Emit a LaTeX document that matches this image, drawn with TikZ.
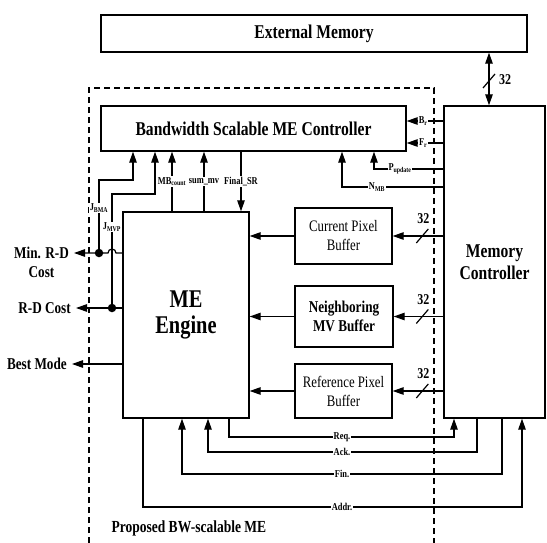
\documentclass[tikz,border=0pt]{standalone}
\usepackage{fontspec}
\setmainfont{Liberation Serif}[FakeStretch=0.8]
\usetikzlibrary{arrows.meta}

\begin{document}
\begin{tikzpicture}[x=1pt, y=-1pt,
  >={Triangle[length=11pt,width=7.5pt]},
  box/.style={draw, line width=1.4pt, inner sep=0pt, align=center},
  head/.style={font=\fontsize{19.5}{22}\selectfont\bfseries},
  buf/.style={box, font=\fontsize{16}{19}\selectfont},
  arr/.style={->, line width=1.2pt},
  wire/.style={line width=1.2pt},
  sig/.style={fill=white, inner sep=0.8pt, font=\fontsize{10.5}{11}\selectfont\bfseries},
  outlbl/.style={inner xsep=5pt, inner ysep=1pt, align=center, font=\fontsize{16.5}{19}\selectfont\bfseries},
  bus/.style={inner sep=0pt, font=\fontsize{15}{15}\selectfont\bfseries},
  dot/.style={circle, fill, inner sep=0pt, minimum size=8.5pt}]
\useasboundingbox (0,0) rectangle (547,543);

% external memory and the dashed ME block
\node[box, head, minimum width=426pt, minimum height=37pt] (ext) at (314,33.5) {External Memory};
\draw[line width=1.1pt, dash pattern=on 6pt off 4pt] (89,543) |- (434,88) -- (434,543);
\node[anchor=west, font=\fontsize{16.9}{18}\selectfont\bfseries] (title) at (108,528) {Proposed BW-scalable ME};

% main blocks
\node[box, head, minimum width=305pt, minimum height=45pt] (bsc) at (253.5,128.5) {Bandwidth Scalable ME Controller};
\node[box, head, minimum width=101pt, minimum height=312pt] (mc) at (494.5,262) {Memory\\Controller};
\node[box, minimum width=126pt, minimum height=206pt, font=\fontsize{25.5}{26}\selectfont\bfseries] (me) at (186,315) {ME\\Engine};
\node[buf, minimum width=97pt, minimum height=56pt] (cpb) at (343.5,236) {Current Pixel\\Buffer};
\node[buf, minimum width=98pt, minimum height=61pt, font=\fontsize{16.5}{19}\selectfont\bfseries] (nmb) at (344,316.5) {Neighboring\\MV Buffer};
\node[buf, minimum width=97pt, minimum height=54pt] (rpb) at (343.5,391) {Reference Pixel\\Buffer};

% 32-bit bus to external memory
\coordinate (busx) at (489,0);
\draw[<->, line width=1.2pt] (ext.south -| busx) -- (mc.north -| busx);
\draw[wire] (489,81) ++(-6,7) -- ++(12,-14);
\node[bus] (wext) at (505,80) {32};

% buffers: memory controller -> buffer -> engine
\foreach \b in {cpb,nmb,rpb}{
  \draw[arr] (\b.west) -- (me.east |- \b.west);
  \draw[arr] (mc.west |- \b.east) -- (\b.east);
  \draw[wire] (mc.west |- \b.east) ++(-27,7) -- ++(12,-14);
  \path (mc.west |- \b.east) ++(-20,-17) node[bus] (w\b) {32};
}

% outputs on the left
\node[dot] (d1) at (99,253) {};
\node[dot] (d2) at (112,308) {};
\node[outlbl, anchor=east] (mrd) at (74,262) {Min. R-D\\Cost};
\node[outlbl, anchor=east] (rdc) at (76,308) {R-D Cost};
\node[outlbl, anchor=east] (bm) at (72,364) {Best Mode};
\draw[arr] (me.west |- d1) -- (116,253) arc[start angle=0, end angle=-180, radius=4] -- (mrd.east |- d1);
\draw[arr] (me.west |- d2) -- (rdc.east);
\draw[arr] (me.west |- bm) -- (bm.east);

% costs fed back to the controller
\draw[arr] (d1) |- (133,180) -- (133,180 |- bsc.south);
\draw[arr] (d2) |- (155,194) -- (155,194 |- bsc.south);
\node[sig] (jbma) at (99,208) {J\textsubscript{BMA}};
\node[sig] (jmvp) at (112,227) {J\textsubscript{MVP}};
\draw[arr] (172,0 |- me.north) -- (172,0 |- bsc.south) node[sig, midway] (mbc) {MB\textsubscript{count}};
\draw[arr] (204,0 |- me.north) -- (204,0 |- bsc.south) node[sig, midway] (smv) {sum\_mv};
\draw[arr] (241,0 |- bsc.south) -- (241,0 |- me.north) node[sig, midway] (fsr) {Final\_SR};

% memory controller -> controller
\draw[arr] (mc.west |- 0,121) -- (bsc.east |- 0,121) node[sig, pos=0.55] (br) {B\textsubscript{r}};
\draw[arr] (mc.west |- 0,143) -- (bsc.east |- 0,143) node[sig, pos=0.55] (fr) {F\textsubscript{r}};
\draw[arr] (mc.west |- 0,169) -- (400,169) node[sig] (pup) {P\textsubscript{update}} -| (374,0 |- bsc.south);
\draw[arr] (mc.west |- 0,187) -- (377,187) node[sig] (nmbl) {N\textsubscript{MB}} -| (342,0 |- bsc.south);

% handshake below
\draw[arr] (229,0 |- me.south) |- (342,437) node[sig] (req) {Req.} -| (454,0 |- mc.south);
\draw[arr] (477,0 |- mc.south) |- (342,452) node[sig] (ack) {Ack.} -| (208,0 |- me.south);
\draw[arr] (502,0 |- mc.south) |- (342,474) node[sig] (fin) {Fin.} -| (182,0 |- me.south);
\draw[arr] (143,0 |- me.south) |- (342,507) node[sig] (addr) {Addr.} -| (522,0 |- mc.south);
\end{tikzpicture}
\end{document}
